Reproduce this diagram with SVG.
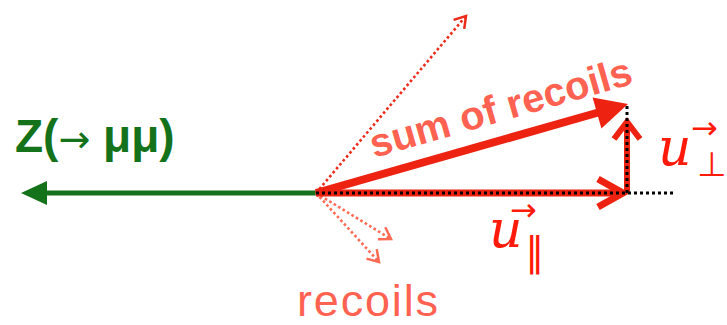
<svg xmlns="http://www.w3.org/2000/svg" width="727" height="325" viewBox="0 0 727 325">
<defs>
<style>
.sans{font-family:"Liberation Sans",Arial,sans-serif}
.math{font-family:"DejaVu Serif",serif;fill:#ff1a0a}
.sym{font-family:"DejaVu Sans",sans-serif;fill:#ff1a0a}
.dotr{fill:none;stroke-width:2.6;stroke-dasharray:2.6 2.6}
.dotk{fill:none;stroke:#000;stroke-width:3;stroke-dasharray:3 3}
</style>
<marker id="openR" markerUnits="userSpaceOnUse" markerWidth="30" markerHeight="30" refX="0" refY="0" viewBox="-15 -15 30 30" orient="auto">
<path d="M-11,-7 L0,0 L-11,7" fill="none" stroke="#ee2a1a" stroke-width="2.5"/>
</marker>
<marker id="openS" markerUnits="userSpaceOnUse" markerWidth="30" markerHeight="30" refX="0" refY="0" viewBox="-15 -15 30 30" orient="auto">
<path d="M-11,-7 L0,0 L-11,7" fill="none" stroke="#ff6a55" stroke-width="2.5"/>
</marker>
</defs>
<g id="connectors">
<line x1="316" y1="193" x2="44" y2="193" stroke="#14721a" stroke-width="5"/>
<polygon points="21,193 47,181 47,205" fill="#14721a"/>
<line class="dotr" x1="316" y1="193" x2="466" y2="16" stroke="#ee2a1a" marker-end="url(#openR)"/>
<line class="dotr" x1="316" y1="193" x2="391" y2="239" stroke="#ff6a55" marker-end="url(#openS)"/>
<line class="dotr" x1="316" y1="193" x2="379" y2="262" stroke="#ff6a55" marker-end="url(#openS)"/>
<line x1="316" y1="193" x2="600" y2="112" stroke="#ee2211" stroke-width="8"/>
<polygon points="628,104 592.6,97.6 601.4,128.4" fill="#ee2211"/>
<line x1="316" y1="193" x2="621" y2="193" stroke="#ee2211" stroke-width="7"/>
<polyline points="598,179 623,193 598,207" fill="none" stroke="#ee2211" stroke-width="7"/>
<line x1="627" y1="193" x2="627" y2="126" stroke="#ee2211" stroke-width="6"/>
<polyline points="614,139 627,122 640,139" fill="none" stroke="#ee2211" stroke-width="6"/>
<line class="dotk" x1="316" y1="193" x2="674" y2="193"/>
<line class="dotk" x1="627" y1="193" x2="627" y2="104"/>
</g>
<g id="z-label">
<text class="sans" x="15" y="152" font-size="46" font-weight="bold" fill="#14721a">Z(<tspan font-family="DejaVu Sans" font-weight="normal" font-size="38">→</tspan> μμ)</text>
</g>
<g id="sum-label">
<text class="sans" transform="translate(374,158) rotate(-16)" font-size="40" font-weight="bold" fill="#ff6251">sum of recoils</text>
</g>
<g id="recoils-label">
<text class="sans" x="297" y="316" font-size="45" fill="#ff6251" textLength="141">recoils</text>
</g>
<g id="u-par">
<text class="math" x="489" y="247" font-size="52" font-style="italic">u</text>
<text class="sym" x="510" y="221" font-size="32">→</text>
<text class="sym" x="525" y="266" font-size="40">∥</text>
</g>
<g id="u-perp">
<text class="math" x="658" y="165" font-size="52" font-style="italic">u</text>
<text class="sym" x="691" y="139" font-size="32">→</text>
<text class="sym" x="697" y="176" font-size="34">⊥</text>
</g>
</svg>
